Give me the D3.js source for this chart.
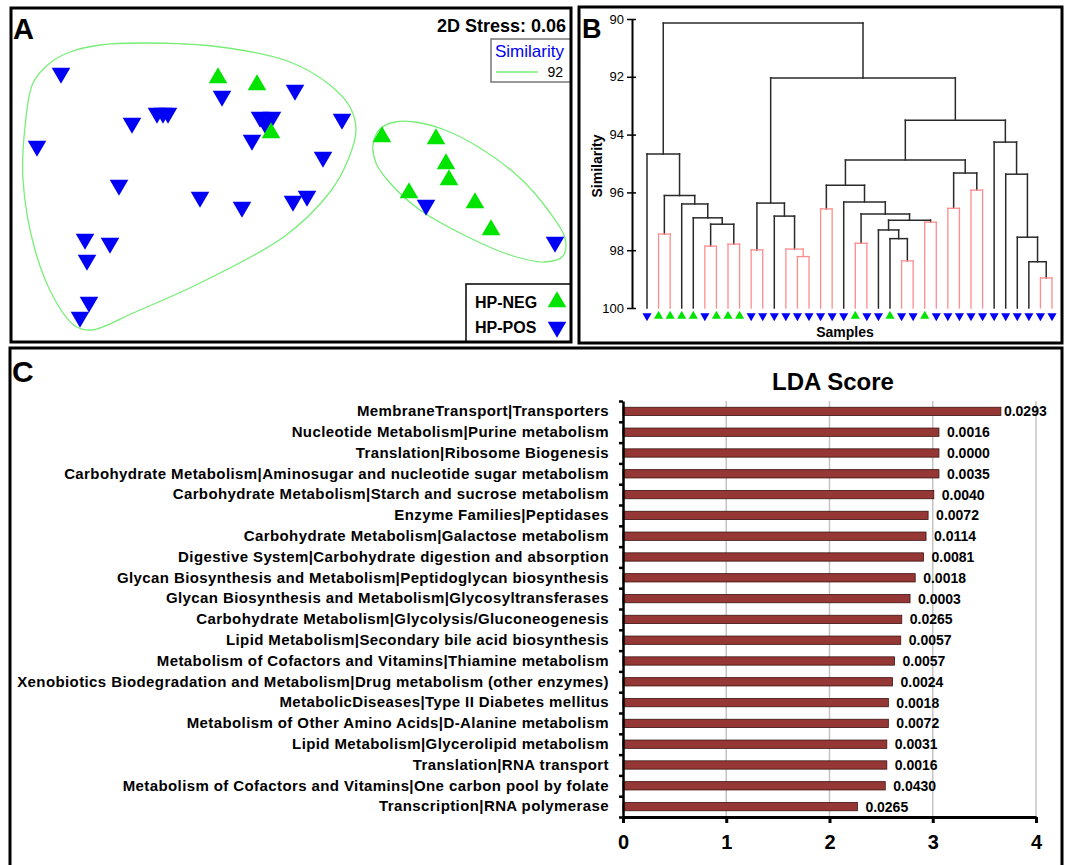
<!DOCTYPE html>
<html>
<head>
<meta charset="utf-8">
<script src="https://cdn.jsdelivr.net/npm/d3@7"></script>
<style>
  body { margin: 0; background: #fff; }
  svg { display: block; font-family: Arial, "Liberation Sans", sans-serif; }
</style>
</head>
<body>
<svg id="fig"></svg>
<script>
// ---- panel A : nMDS coordinates ----
const negX = [-0.73, -0.34, -0.20, 0.91, 1.45, 1.55, 1.58, 1.18, 1.84, 2.00];
const negY = [0.97, 0.90, 0.42, 0.38, 0.36, 0.11, -0.05, -0.18, -0.28, -0.55];
const posX = [-2.30, -0.69, -1.34, -1.28, -1.23, -1.59, -2.54, -0.31, -0.19, -0.26, -0.39, 0.04, 0.51,
              0.32, -1.72, -0.91, -0.49, 0.02, 0.16, 1.35, 2.64, -2.06, -1.81, -2.04, -2.02, -2.11];
const posY = [1.02, 0.79, 0.62, 0.62, 0.62, 0.52, 0.29, 0.58, 0.58, 0.52, 0.35, 0.85, 0.56,
              0.18, -0.10, -0.22, -0.32, -0.26, -0.21, -0.30, -0.67, -0.64, -0.68, -0.85, -1.27, -1.42];
// similarity 92 contours
const hullBig = [[-2.68,-0.05],[-2.66,0.48],[-2.58,0.92],[-2.41,1.12],[-2.21,1.23],[-1.91,1.30],[-1.48,1.32],
                 [-0.71,1.28],[-0.01,1.13],[0.39,0.90],[0.59,0.68],[0.65,0.45],[0.57,0.15],[0.39,-0.17],
                 [-0.06,-0.61],[-0.91,-1.08],[-1.58,-1.38],[-1.99,-1.55],[-2.16,-1.51],[-2.36,-1.25],[-2.56,-0.75]];
const hullSmall = [[0.82,0.30],[0.89,0.46],[1.04,0.53],[1.24,0.53],[1.54,0.45],[1.89,0.27],[2.29,-0.03],
                   [2.57,-0.35],[2.74,-0.63],[2.72,-0.81],[2.54,-0.87],[2.19,-0.80],[1.79,-0.63],[1.29,-0.35],
                   [0.99,-0.08],[0.85,0.12]];
const stressText = "2D Stress: 0.06";
const contourLevel = 92;
const groupNames = ["HP-NEG", "HP-POS"];

// ---- panel B : cluster tree [similarity, nonSignificant, left, right], leaves are sample ids ----
const leafGroup = "PNNNNPNNNPPPPPPPPPNPPNPPNPPPPPPPPPPP".split("");
const dendroTree =
  [90.14, 0,
    [94.67, 0, 0,
      [96.11, 0, [97.44, 1, 1, 2],
        [96.4, 0, 3, [96.88, 0, 4, [97.1, 0, [97.86, 1, 5, 6], [97.79, 1, 7, 8]]]]]],
    [92.04, 0,
      [96.37, 0, [97.99, 1, 9, 10], [96.82, 0, 11, [97.96, 1, 12, [98.22, 1, 13, 14]]]],
      [93.5, 0,
        [94.88, 0,
          [95.75, 0, [96.57, 1, 15, 16],
            [96.33, 0, 17,
              [96.75, 0, [97.76, 1, 18, 19],
                [96.96, 0, [97.3, 0, 20, [97.6, 0, 21, [98.37, 1, 22, 23]]], [97.03, 1, 24, 25]]]]],
          [95.33, 0, [96.55, 1, 26, 27], [95.92, 1, 28, 29]]],
        [94.26, 0, 30, [95.37, 0, 31, [97.55, 0, 32, [98.4, 0, 33, [98.96, 1, 34, 35]]]]]]]];
const simTicks = [90, 92, 94, 96, 98, 100];

// ---- panel C : LEfSe LDA ----
const ldaLabels = [
  "MembraneTransport|Transporters",
  "Nucleotide Metabolism|Purine metabolism",
  "Translation|Ribosome Biogenesis",
  "Carbohydrate Metabolism|Aminosugar and nucleotide sugar metabolism",
  "Carbohydrate Metabolism|Starch and sucrose metabolism",
  "Enzyme Families|Peptidases",
  "Carbohydrate Metabolism|Galactose metabolism",
  "Digestive System|Carbohydrate digestion and absorption",
  "Glycan Biosynthesis and Metabolism|Peptidoglycan biosynthesis",
  "Glycan Biosynthesis and Metabolism|Glycosyltransferases",
  "Carbohydrate Metabolism|Glycolysis/Gluconeogenesis",
  "Lipid Metabolism|Secondary bile acid biosynthesis",
  "Metabolism of Cofactors and Vitamins|Thiamine metabolism",
  "Xenobiotics Biodegradation and Metabolism|Drug metabolism (other enzymes)",
  "MetabolicDiseases|Type II Diabetes mellitus",
  "Metabolism of Other Amino Acids|D-Alanine metabolism",
  "Lipid Metabolism|Glycerolipid metabolism",
  "Translation|RNA transport",
  "Metabolism of Cofactors and Vitamins|One carbon pool by folate",
  "Transcription|RNA polymerase"];
const ldaScores = [3.66, 3.06, 3.06, 3.06, 3.01, 2.955, 2.935, 2.91, 2.83, 2.78,
                   2.70, 2.69, 2.63, 2.61, 2.57, 2.57, 2.555, 2.555, 2.54, 2.27];
const ldaP = ["0.0293", "0.0016", "0.0000", "0.0035", "0.0040", "0.0072", "0.0114", "0.0081", "0.0018", "0.0003",
              "0.0265", "0.0057", "0.0057", "0.0024", "0.0018", "0.0072", "0.0031", "0.0016", "0.0430", "0.0265"];
const ldaTicks = [0, 1, 2, 3, 4];

const ctx = {
  width: 1067, height: 865,
  A: {x: 11, y: 8, w: 560, h: 334},
  B: {x: 579, y: 7, w: 483, h: 336},
  C: {x: 10, y: 348, w: 1052, h: 540},
  green: "#00e400",
  blue: "#0000f5",
  hull: "#78ee78",
  red: "#ff8c8c",
  bar: "#953735"
};

const svg = d3.select("#fig").attr("width", ctx.width).attr("height", ctx.height);

function tri(size) {
  return d3.symbol().type(d3.symbolTriangle).size(size)();
}

function panelFrame(p, letter, lx, ly, fs) {
  svg.append("rect")
    .attr("x", p.x).attr("y", p.y).attr("width", p.w).attr("height", p.h)
    .attr("fill", "none").attr("stroke", "#000").attr("stroke-width", 3);
  svg.append("text")
    .attr("x", lx).attr("y", ly)
    .style("font-size", fs + "px").style("font-weight", "bold")
    .text(letter);
}

function drawA() {
  const g = svg.append("g");
  const x = d3.scaleLinear().domain([-2.8, 2.8]).range([11, 571]);
  const y = d3.scaleLinear().domain([-1.67, 1.67]).range([342, 8]);

  const hullLine = d3.line()
    .x(d => x(d[0])).y(d => y(d[1]))
    .curve(d3.curveCatmullRomClosed.alpha(0.5));
  [hullBig, hullSmall].forEach(h => {
    g.append("path").attr("d", hullLine(h))
      .attr("fill", "none").attr("stroke", ctx.hull).attr("stroke-width", 1.3);
  });

  // samples
  g.selectAll("path.pos").data(posX).enter().append("path")
    .attr("class", "pos")
    .attr("d", tri(150))
    .attr("transform", (d, i) => `translate(${x(d)},${y(posY[i])}) rotate(180)`)
    .attr("fill", ctx.blue);
  g.selectAll("path.neg").data(negX).enter().append("path")
    .attr("class", "neg")
    .attr("d", tri(150))
    .attr("transform", (d, i) => `translate(${x(d)},${y(negY[i])})`)
    .attr("fill", ctx.green);

  g.append("text")
    .attr("x", 566).attr("y", 32).attr("text-anchor", "end")
    .style("font-size", "18px").style("font-weight", "bold")
    .text(stressText);

  // similarity legend
  g.append("rect").attr("x", 491).attr("y", 39).attr("width", 80).attr("height", 43)
    .attr("fill", "#fff").attr("stroke", "#777").attr("stroke-width", 1.5);
  g.append("text").attr("x", 495).attr("y", 57)
    .attr("fill", ctx.blue).style("font-size", "17px").text("Similarity");
  g.append("line").attr("x1", 496).attr("x2", 538).attr("y1", 72).attr("y2", 72)
    .attr("stroke", ctx.hull).attr("stroke-width", 1.5);
  g.append("text").attr("x", 563).attr("y", 77).attr("text-anchor", "end")
    .style("font-size", "14px").text(contourLevel);

  // group legend
  g.append("rect").attr("x", 466).attr("y", 284).attr("width", 105).attr("height", 58)
    .attr("fill", "#fff").attr("stroke", "#000").attr("stroke-width", 1.5);
  groupNames.forEach((name, i) => {
    g.append("text").attr("x", 475).attr("y", 308 + i * 25)
      .style("font-size", "16px").style("font-weight", "bold").text(name);
    g.append("path").attr("d", tri(150))
      .attr("transform", `translate(557,${302 + i * 25}) rotate(${i ? 180 : 0})`)
      .attr("fill", i ? ctx.blue : ctx.green);
  });

  panelFrame(ctx.A, "A", 13, 39, 29);
}

function drawB() {
  const g = svg.append("g");
  const y = d3.scaleLinear().domain([90, 100]).range([19, 308]);
  const xLeaf = d3.scalePoint().domain(d3.range(leafGroup.length)).range([647, 1052]);

  function build(n) {
    if (typeof n === "number") return {leaf: n, x: xLeaf(n), h: 100};
    const kids = [build(n[2]), build(n[3])];
    return {h: n[0], red: n[1], kids: kids, x: (kids[0].x + kids[1].x) / 2};
  }
  const root = build(dendroTree);

  const segs = [];
  (function walk(node) {
    if (!node.kids) return;
    const col = node.red ? ctx.red : "#2a2a2a";
    segs.push({x1: node.kids[0].x, x2: node.kids[1].x, y1: node.h, y2: node.h, c: col, red: node.red});
    node.kids.forEach(k => {
      segs.push({x1: k.x, x2: k.x, y1: k.h, y2: node.h, c: col, red: node.red});
      walk(k);
    });
  })(root);

  g.selectAll("line.seg").data(segs).enter().append("line")
    .attr("class", "seg")
    .attr("x1", d => d.x1).attr("x2", d => d.x2)
    .attr("y1", d => y(d.y1)).attr("y2", d => y(d.y2))
    .attr("stroke", d => d.c)
    .attr("stroke-width", d => d.red ? 1.3 : 1.5)
    .attr("stroke-linecap", "square");

  // leaf markers
  g.selectAll("path.leaf").data(leafGroup).enter().append("path")
    .attr("class", "leaf")
    .attr("d", tri(36))
    .attr("transform", (d, i) => `translate(${xLeaf(i)},316) rotate(${d === "P" ? 180 : 0})`)
    .attr("fill", d => d === "P" ? ctx.blue : ctx.green);

  // similarity axis
  const ax = g.append("g")
    .attr("transform", "translate(632,0)")
    .call(d3.axisLeft(y).tickValues(simTicks).tickSize(5).tickPadding(3).tickSizeOuter(0));
  ax.select(".domain").attr("stroke-width", 2);
  ax.selectAll(".tick line").attr("x1", 4).attr("x2", -5).attr("stroke-width", 1.5);
  ax.selectAll(".tick text")
    .style("font-size", "13px").style("font-family", "Arial, 'Liberation Sans', sans-serif")
    .attr("fill", "#000");

  g.append("text")
    .attr("transform", "translate(602,166) rotate(-90)")
    .attr("text-anchor", "middle")
    .style("font-size", "14px").style("font-weight", "bold")
    .text("Similarity");
  g.append("text")
    .attr("x", 845).attr("y", 337).attr("text-anchor", "middle")
    .style("font-size", "14px").style("font-weight", "bold")
    .text("Samples");

  panelFrame(ctx.B, "B", 582, 38, 27);
}

function drawC() {
  const g = svg.append("g");
  const x = d3.scaleLinear().domain([0, 4]).range([623, 1036]);
  const yb = d3.scaleBand().domain(ldaLabels).range([401, 817])
    .paddingInner(0.6).paddingOuter(0.3);
  const yTick = d3.scaleLinear().domain([0, ldaLabels.length]).range([401, 817]);

  // grid
  g.selectAll("line.grid").data(ldaTicks.slice(1)).enter().append("line")
    .attr("class", "grid")
    .attr("x1", d => x(d)).attr("x2", d => x(d))
    .attr("y1", 401).attr("y2", 817)
    .attr("stroke", "#c4c4c4").attr("stroke-width", 1.5);

  // bars
  g.selectAll("rect.bar").data(ldaScores).enter().append("rect")
    .attr("class", "bar")
    .attr("x", x(0))
    .attr("y", (d, i) => yb(ldaLabels[i]))
    .attr("width", d => x(d) - x(0))
    .attr("height", yb.bandwidth())
    .attr("fill", ctx.bar).attr("stroke", "#3d1212").attr("stroke-width", 0.8);

  g.selectAll("text.pval").data(ldaP).enter().append("text")
    .attr("class", "pval")
    .attr("x", (d, i) => x(ldaScores[i]) + (i === 0 ? 3 : 8))
    .attr("y", (d, i) => yb(ldaLabels[i]) + yb.bandwidth() / 2)
    .attr("dy", "0.36em")
    .style("font-size", "14px").style("font-weight", "bold")
    .text(d => d);

  // category labels
  const yl = g.append("g")
    .attr("transform", `translate(${x(0)},0)`)
    .call(d3.axisLeft(yb).tickSize(0).tickPadding(14));
  yl.select(".domain").remove();
  yl.selectAll(".tick text")
    .style("font-size", "15px").style("font-weight", "bold")
    .style("letter-spacing", "0.4px")
    .style("font-family", "Arial, 'Liberation Sans', sans-serif")
    .attr("fill", "#000");

  // boundary ticks
  const yt = g.append("g")
    .attr("transform", `translate(${x(0)},0)`)
    .call(d3.axisLeft(yTick).ticks(ldaLabels.length).tickSize(4).tickFormat("").tickSizeOuter(0));
  yt.select(".domain").attr("stroke-width", 2.5);
  yt.selectAll(".tick line").attr("stroke-width", 2.5);

  const xa = g.append("g")
    .attr("transform", "translate(0,817)")
    .call(d3.axisBottom(x).tickValues(ldaTicks).tickFormat(d3.format("d"))
      .tickSize(6).tickPadding(12).tickSizeOuter(0));
  xa.select(".domain").attr("stroke-width", 3);
  xa.selectAll(".tick line").attr("stroke-width", 3);
  xa.selectAll(".tick text")
    .style("font-size", "20px").style("font-weight", "bold")
    .style("font-family", "Arial, 'Liberation Sans', sans-serif")
    .attr("fill", "#000");

  g.append("text")
    .attr("x", 833).attr("y", 390).attr("text-anchor", "middle")
    .style("font-size", "24px").style("font-weight", "bold")
    .text("LDA Score");

  panelFrame(ctx.C, "C", 12, 382, 30);
}

drawA();
drawB();
drawC();
</script>
</body>
</html>
